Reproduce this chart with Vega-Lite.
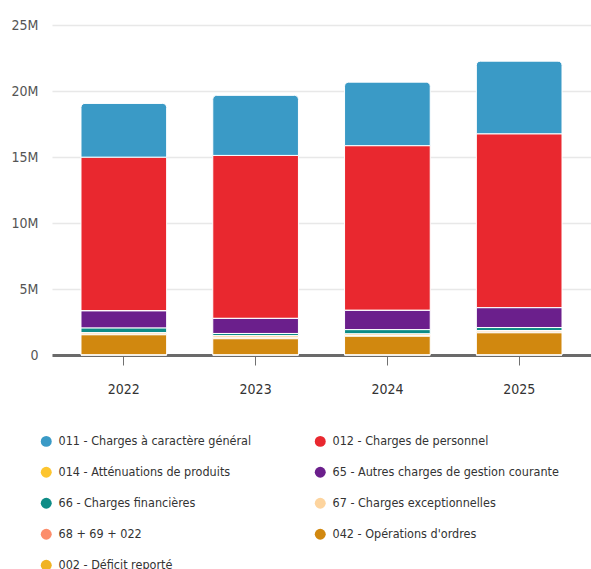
{
  "$schema": "https://vega.github.io/schema/vega-lite/v6.json",
  "autosize": {"type": "none"},
  "padding": {"left": 52, "top": 25, "right": 0, "bottom": 214},
  "width": 539,
  "height": 330,
  "background": "white",
  "config": {
    "font": "DejaVu Sans Condensed, Roboto, sans-serif",
    "view": {"stroke": null}
  },
  "data": {
    "values": [
      {"annee": "2022", "categorie": "011 - Charges à caractère général", "montant": 4070000},
      {"annee": "2022", "categorie": "012 - Charges de personnel", "montant": 11650000},
      {"annee": "2022", "categorie": "014 - Atténuations de produits", "montant": 0},
      {"annee": "2022", "categorie": "65 - Autres charges de gestion courante", "montant": 1300000},
      {"annee": "2022", "categorie": "66 - Charges financières", "montant": 350000},
      {"annee": "2022", "categorie": "67 - Charges exceptionnelles", "montant": 120000},
      {"annee": "2022", "categorie": "68 + 69 + 022", "montant": 40000},
      {"annee": "2022", "categorie": "042 - Opérations d'ordres", "montant": 1530000},
      {"annee": "2022", "categorie": "002 - Déficit reporté", "montant": 0},
      {"annee": "2023", "categorie": "011 - Charges à caractère général", "montant": 4550000},
      {"annee": "2023", "categorie": "012 - Charges de personnel", "montant": 12350000},
      {"annee": "2023", "categorie": "014 - Atténuations de produits", "montant": 0},
      {"annee": "2023", "categorie": "65 - Autres charges de gestion courante", "montant": 1140000},
      {"annee": "2023", "categorie": "66 - Charges financières", "montant": 170000},
      {"annee": "2023", "categorie": "67 - Charges exceptionnelles", "montant": 170000},
      {"annee": "2023", "categorie": "68 + 69 + 022", "montant": 60000},
      {"annee": "2023", "categorie": "042 - Opérations d'ordres", "montant": 1230000},
      {"annee": "2023", "categorie": "002 - Déficit reporté", "montant": 0},
      {"annee": "2024", "categorie": "011 - Charges à caractère général", "montant": 4810000},
      {"annee": "2024", "categorie": "012 - Charges de personnel", "montant": 12480000},
      {"annee": "2024", "categorie": "014 - Atténuations de produits", "montant": 0},
      {"annee": "2024", "categorie": "65 - Autres charges de gestion courante", "montant": 1460000},
      {"annee": "2024", "categorie": "66 - Charges financières", "montant": 320000},
      {"annee": "2024", "categorie": "67 - Charges exceptionnelles", "montant": 130000},
      {"annee": "2024", "categorie": "68 + 69 + 022", "montant": 50000},
      {"annee": "2024", "categorie": "042 - Opérations d'ordres", "montant": 1420000},
      {"annee": "2024", "categorie": "002 - Déficit reporté", "montant": 0},
      {"annee": "2025", "categorie": "011 - Charges à caractère général", "montant": 5500000},
      {"annee": "2025", "categorie": "012 - Charges de personnel", "montant": 13180000},
      {"annee": "2025", "categorie": "014 - Atténuations de produits", "montant": 0},
      {"annee": "2025", "categorie": "65 - Autres charges de gestion courante", "montant": 1500000},
      {"annee": "2025", "categorie": "66 - Charges financières", "montant": 230000},
      {"annee": "2025", "categorie": "67 - Charges exceptionnelles", "montant": 120000},
      {"annee": "2025", "categorie": "68 + 69 + 022", "montant": 50000},
      {"annee": "2025", "categorie": "042 - Opérations d'ordres", "montant": 1680000},
      {"annee": "2025", "categorie": "002 - Déficit reporté", "montant": 0}
    ]
  },
  "transform": [
    {"calculate": "indexof(['011 - Charges à caractère général','012 - Charges de personnel','014 - Atténuations de produits','65 - Autres charges de gestion courante','66 - Charges financières','67 - Charges exceptionnelles','68 + 69 + 022','042 - Opérations d\\'ordres','002 - Déficit reporté'], datum.categorie)", "as": "rang"},
    {"stack": "montant", "groupby": ["annee"], "sort": [{"field": "rang", "order": "descending"}], "as": ["y0", "y1"]}
  ],
  "encoding": {
    "x": {
      "field": "annee", "type": "nominal",
      "scale": {"paddingInner": 0.35, "paddingOuter": 0.22},
      "axis": {
        "title": null, "labelAngle": 0, "domainColor": "#6a6a6a", "domainWidth": 3,
        "tickColor": "#707070", "tickSize": 10, "labelFontSize": 14, "labelColor": "#333333",
        "labelPadding": 17, "grid": false
      }
    },
    "y": {
      "field": "y1", "type": "quantitative",
      "scale": {"domain": [0, 25000000]},
      "axis": {
        "title": null, "values": [0, 5000000, 10000000, 15000000, 20000000, 25000000],
        "labelExpr": "datum.value == 0 ? '0' : (datum.value / 1000000) + 'M'",
        "domain": false, "ticks": false, "labelPadding": 14, "labelFontSize": 14,
        "labelColor": "#555555", "gridColor": "#e8e8e8", "gridWidth": 1.5
      }
    },
    "y2": {"field": "y0"},
    "color": {
      "field": "categorie", "type": "nominal",
      "scale": {
        "domain": ["011 - Charges à caractère général", "012 - Charges de personnel", "014 - Atténuations de produits", "65 - Autres charges de gestion courante", "66 - Charges financières", "67 - Charges exceptionnelles", "68 + 69 + 022", "042 - Opérations d'ordres", "002 - Déficit reporté"],
        "range": ["#3a9ac6", "#e9282f", "#fdc52f", "#6b1f8c", "#0e8c86", "#fdd49e", "#fc8d6b", "#d1880f", "#f0b323"]
      },
      "legend": {
        "title": null, "orient": "none", "legendX": -12, "legendY": 410,
        "direction": "horizontal", "columns": 2, "columnPadding": 62, "rowPadding": 18, "padding": 0,
        "symbolType": "circle", "symbolSize": 120, "symbolStrokeWidth": 0, "symbolOffset": 0,
        "labelFontSize": 12.5, "labelColor": "#333333", "labelLimit": 300, "labelOffset": 6
      }
    }
  },
  "layer": [
    {
      "transform": [{"filter": "datum.rang != 0"}],
      "mark": {"type": "bar", "stroke": "white", "strokeWidth": 1}
    },
    {
      "transform": [{"filter": "datum.rang == 0"}],
      "mark": {"type": "bar", "stroke": "white", "strokeWidth": 1, "cornerRadiusTopLeft": 4, "cornerRadiusTopRight": 4}
    }
  ]
}
